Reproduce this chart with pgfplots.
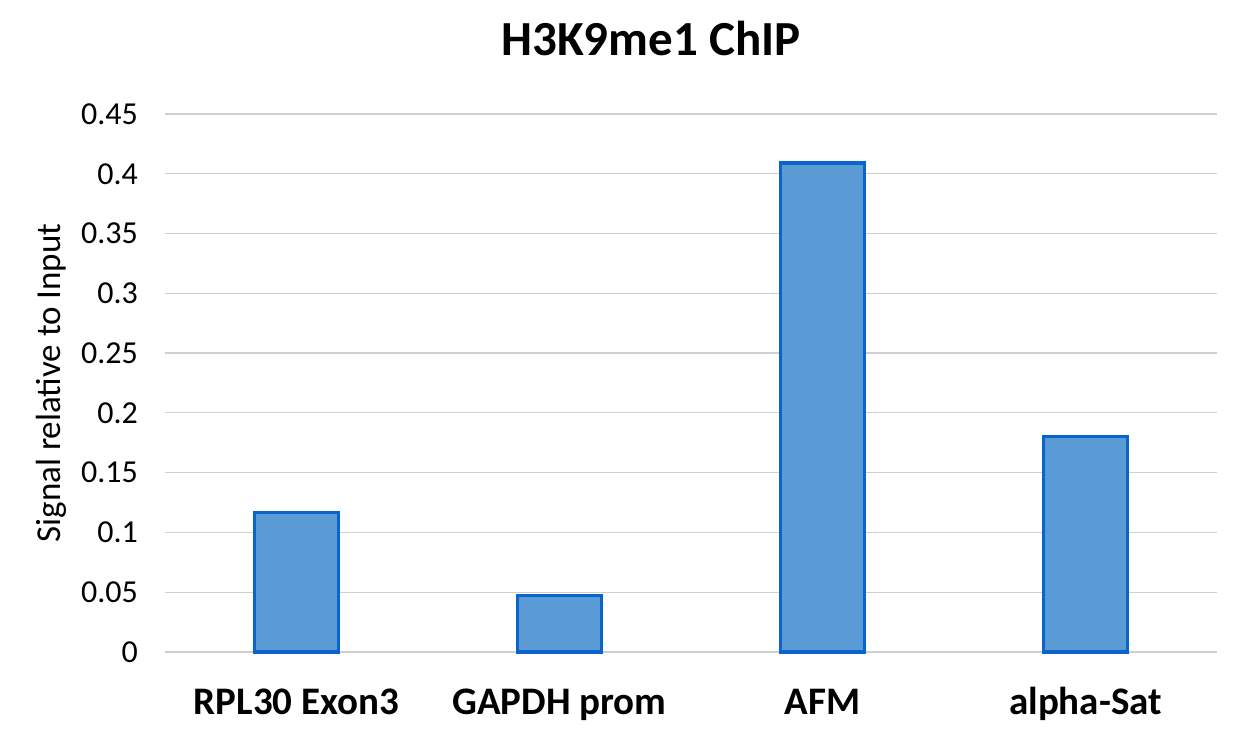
\documentclass[border=0pt]{standalone}
\usepackage{fontspec}
\setmainfont{Carlito}
\usepackage{pgfplots}
\pgfplotsset{compat=1.18}
\definecolor{barfill}{HTML}{5B9BD5}
\definecolor{baredge}{HTML}{0A64CC}
\definecolor{gridgray}{HTML}{CFCFCF}

\begin{document}
\begin{tikzpicture}
\begin{axis}[
    scale only axis,
    width=526pt, height=269pt,
    xmin=-0.5, xmax=3.5,
    ymin=0, ymax=0.45,
    ytick={0,0.05,...,0.45},
    xtick=data,
    xticklabels={RPL30 Exon3, GAPDH prom, AFM, alpha-Sat},
    xticklabel style={font=\fontsize{19.5}{22}\selectfont\bfseries, anchor=base, yshift=-31.5pt},
    yticklabel style={font=\fontsize{16}{18}\selectfont, xshift=-10pt},
    /pgf/number format/assume math mode=true,
    /pgf/number format/fixed,
    /pgf/number format/precision=2,
    axis line style={draw=none},
    major tick length=0pt,
    ymajorgrids,
    grid style={gridgray, line width=0.6pt},
    ylabel={Signal relative to Input},
    % the label is turned by 90 degrees, so yshift moves it to the left
    ylabel style={font=\fontsize{17.5}{20}\selectfont, at={(axis description cs:0,0.5)}, anchor=center, yshift=57pt},
    title={H3K9me1 ChIP},
    title style={font=\fontsize{24.5}{28}\selectfont\bfseries, at={(axis description cs:0.5,1)}, anchor=center, yshift=31.5pt, xshift=-20pt},
    ybar, bar width=0.32,
    clip=false,
]
\addplot[fill=barfill, draw=baredge, line width=1.6pt]
    coordinates {(0,0.117) (1,0.047) (2,0.409) (3,0.180)};
\coordinate (sw) at (rel axis cs:0,0);
\coordinate (ne) at (rel axis cs:1,1);
\end{axis}
\pgfresetboundingbox
\path ([xshift=-82.5pt,yshift=-40.5pt]sw) rectangle ([xshift=10pt,yshift=57pt]ne);
\end{tikzpicture}
\end{document}
